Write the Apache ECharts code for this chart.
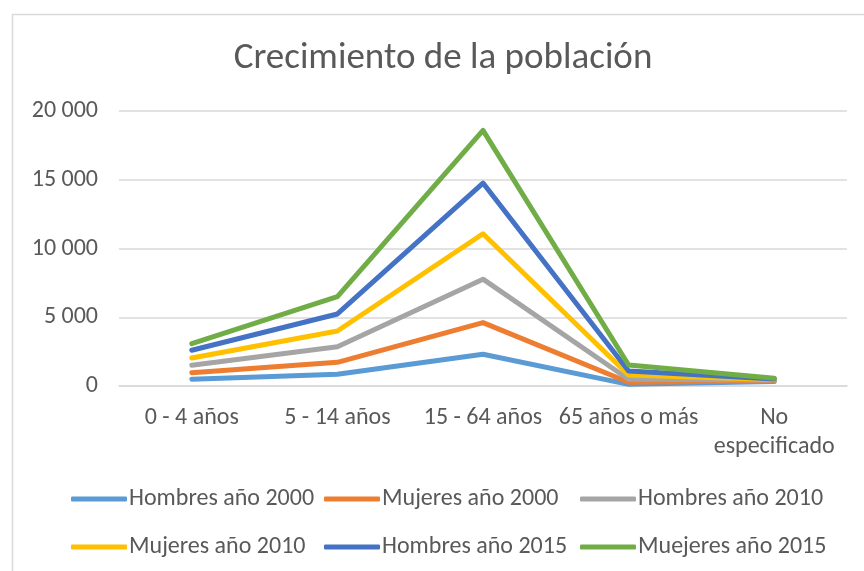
<!DOCTYPE html>
<html>
<head>
<meta charset="utf-8">
<script src="https://cdn.jsdelivr.net/npm/echarts@6/dist/echarts.min.js"></script>
<style>html,body{margin:0;padding:0;background:#fff;}#c{width:864px;height:571px;}</style>
</head>
<body>
<div id="c"></div>
<script>
var categories = ['0 - 4 años', '5 - 14 años', '15 - 64 años', '65 años o más', 'No\nespecificado'];
var seriesNames = ['Hombres año 2000', 'Mujeres año 2000', 'Hombres año 2010', 'Mujeres año 2010', 'Hombres año 2015', 'Muejeres año 2015'];
var hombres2000 = [490, 850, 2310, 120, 330];
var mujeres2000 = [480, 870, 2300, 150, 60];
var hombres2010 = [540, 1140, 3160, 220, 40];
var mujeres2010 = [530, 1140, 3300, 310, 40];
var hombres2015 = [560, 1240, 3690, 290, 40];
var mujeres2015 = [480, 1260, 3830, 440, 50];
var colors = ['#5B9BD5', '#ED7D31', '#A5A5A5', '#FFC000', '#4472C4', '#70AD47'];
var yTicks = [0, 5000, 10000, 15000, 20000];

var allData = [hombres2000, mujeres2000, hombres2010, mujeres2010, hombres2015, mujeres2015];
var font = 'Carlito, Calibri, Lato, sans-serif';
var txt = '#595959';
var legendPos = [[71, 487], [324, 487], [580, 487], [71, 535], [324, 535], [580, 535]];

var chart = echarts.init(document.getElementById('c'));
chart.setOption({
  animation: false,
  color: colors,
  title: {
    text: 'Crecimiento de la población',
    left: 443, top: 40, textAlign: 'center', padding: 0,
    textStyle: { fontFamily: font, fontSize: 37, fontWeight: 'normal', color: txt }
  },
  graphic: [{
    type: 'rect', left: 10, top: 12, silent: true,
    shape: { width: 900, height: 700 },
    style: { fill: 'none', stroke: '#d9d9d9', lineWidth: 1.5 }
  }],
  legend: seriesNames.map(function (n, i) {
    return {
      data: [n], left: legendPos[i][0], top: legendPos[i][1], padding: 0,
      icon: 'roundRect', itemWidth: 56, itemHeight: 5,
      textStyle: { fontFamily: font, fontSize: 24, color: txt, padding: [0, 0, 0, -3] }
    };
  }),
  grid: { left: 119, right: 17, top: 111, bottom: 185, containLabel: false },
  xAxis: {
    type: 'category', data: categories, boundaryGap: true,
    axisLine: { show: true, lineStyle: { color: '#d9d9d9', width: 1.5 } },
    axisTick: { show: false },
    axisLabel: { fontFamily: font, fontSize: 24, color: txt, margin: 17, lineHeight: 29, interval: 0 }
  },
  yAxis: {
    type: 'value', min: yTicks[0], max: yTicks[yTicks.length - 1], interval: 5000,
    axisLine: { show: false }, axisTick: { show: false },
    splitLine: { lineStyle: { color: '#d9d9d9', width: 1.5 } },
    axisLabel: {
      fontFamily: font, fontSize: 24, color: txt, margin: 21,
      formatter: function (v) { return String(v).replace(/\B(?=(\d{3})+(?!\d))/g, ' '); }
    }
  },
  series: seriesNames.map(function (n, i) {
    return {
      name: n, type: 'line', stack: 'total', data: allData[i],
      showSymbol: false, symbol: 'none',
      lineStyle: { width: 5, color: colors[i], cap: 'round', join: 'round' },
      itemStyle: { color: colors[i] }
    };
  })
});
</script>
</body>
</html>
